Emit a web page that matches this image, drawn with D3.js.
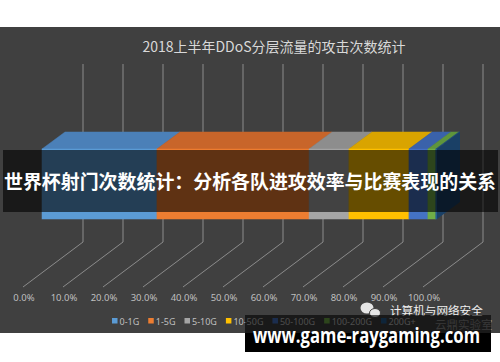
<!DOCTYPE html>
<html>
<head>
<meta charset="utf-8">
<script src="https://cdn.jsdelivr.net/npm/d3@7"></script>
<style>
  body { margin: 0; background: #ffffff; }
  svg { display: block; }
</style>
</head>
<body>
<svg id="chart" width="500" height="362"></svg>
<script>
// data (share of attacks, %)
let categories = ["0-1G", "1-5G", "5-10G", "10-50G", "50-100G", "100-200G", "200G+"];
let shares     = [29.1, 38.5, 10.1, 15.2, 4.8, 2.0, 0.3];
let tickValues = [0, 0.1, 0.2, 0.3, 0.4, 0.5, 0.6, 0.7, 0.8, 0.9, 1.0];

let frontColors = ["#5b9bd5", "#ed7d31", "#a5a5a5", "#ffc000", "#4472c4", "#70ad47", "#255e91"];
let topColors   = ["#4b80b8", "#c8652a", "#8d8d8d", "#d9a400", "#3a62aa", "#5f953c", "#1f4f7c"];
let sideColors  = ["#3f6d9c", "#a9531f", "#777777", "#b88b00", "#31538f", "#4f7e32", "#1a4066"];

let chart = d3.select("#chart");

// dark plot background
chart.append("rect")
    .attr("x", 0).attr("y", 27)
    .attr("width", 500).attr("height", 306)
    .attr("fill", "#404040");

// title
chart.append("text")
    .text("2018上半年DDoS分层流量的攻击次数统计")
    .attr("x", 274)
    .attr("y", 52)
    .style("font-family", "'Noto Sans CJK SC', sans-serif")
    .style("font-size", "14px")
    .style("text-anchor", "middle")
    .style("fill", "#d9d9d9");

// back wall scale (gridlines) and front face scale (bar)
let xBack = d3.scaleLinear().domain([0, 1]).range([83, 483]);
let xFront = d3.scaleLinear().domain([0, 100]).range([42, 437]);
let depthX = 23, depthY = -17;
let barTop = 149, barBottom = 219;
let floorY = 242, floorDX = -60, floorDY = 45;

// gridlines: vertical on the wall, then slanting across the floor
chart.selectAll("gridline")
    .data(tickValues)
    .enter()
    .append("path")
    .attr("d", function(d) {
        let x = xBack(d);
        return "M" + x + ",64 L" + x + "," + floorY + " L" + (x + floorDX) + "," + (floorY + floorDY);
    })
    .attr("fill", "none")
    .attr("stroke", "#8c8c8c")
    .attr("stroke-width", 1);

// tick labels
chart.selectAll("ticklabel")
    .data(tickValues)
    .enter()
    .append("text")
    .text(d3.format(".1%"))
    .attr("x", function(d) { return xBack(d) + floorDX + 1; })
    .attr("y", 301)
    .style("font-family", "'Noto Sans', sans-serif")
    .style("font-size", "9.5px")
    .style("text-anchor", "middle")
    .style("fill", "#bfbfbf");

// stacked segments
let stack = [];
let acc = 0;
shares.forEach(function(v, i) {
    stack.push({ name: categories[i], start: acc, end: acc + v, i: i });
    acc += v;
});

// top faces
chart.selectAll("topface")
    .data(stack)
    .enter()
    .append("path")
    .attr("d", function(d) {
        let x0 = xFront(d.start), x1 = xFront(d.end);
        return "M" + x0 + "," + barTop +
            " L" + (x0 + depthX) + "," + (barTop + depthY) +
            " L" + (x1 + depthX) + "," + (barTop + depthY) +
            " L" + x1 + "," + barTop + " Z";
    })
    .attr("fill", function(d) { return topColors[d.i]; })
    .attr("stroke", function(d) { return topColors[d.i]; })
    .attr("stroke-width", 0.5);

// front faces
chart.selectAll("frontface")
    .data(stack)
    .enter()
    .append("rect")
    .attr("x", function(d) { return xFront(d.start); })
    .attr("y", barTop)
    .attr("width", function(d) { return xFront(d.end) - xFront(d.start); })
    .attr("height", barBottom - barTop)
    .attr("fill", function(d) { return frontColors[d.i]; })
    .attr("stroke", function(d) { return frontColors[d.i]; })
    .attr("stroke-width", 0.5);

// right side face of last segment
let last = stack[stack.length - 1];
let xe = xFront(last.end);
chart.append("path")
    .attr("d", "M" + xe + "," + barTop +
        " L" + (xe + depthX) + "," + (barTop + depthY) +
        " L" + (xe + depthX) + "," + (barBottom + depthY) +
        " L" + xe + "," + barBottom + " Z")
    .attr("fill", sideColors[last.i]);

// legend
let legend = chart.append("g");
let lx = 112;
categories.forEach(function(c, i) {
    legend.append("rect")
        .attr("x", lx).attr("y", 318)
        .attr("width", 5.5).attr("height", 5.5)
        .attr("fill", frontColors[i]);
    let t = legend.append("text")
        .text(c)
        .attr("x", lx + 7.5)
        .attr("y", 324.5)
        .style("font-family", "'Noto Sans', sans-serif")
        .style("font-size", "9px")
        .style("fill", "#bfbfbf");
    lx += 7.5 + t.node().getComputedTextLength() + 9;
});

// overlay banner across the bar
chart.append("rect")
    .attr("x", 3).attr("y", 150)
    .attr("width", 495).attr("height", 62)
    .attr("fill", "#000000")
    .attr("opacity", 0.6);

chart.append("text")
    .text("世界杯射门次数统计：分析各队进攻效率与比赛表现的关系")
    .attr("x", 250)
    .attr("y", 189)
    .attr("textLength", 492)
    .attr("lengthAdjust", "spacingAndGlyphs")
    .style("font-family", "'Noto Sans CJK SC', sans-serif")
    .style("font-size", "19px")
    .style("font-weight", "bold")
    .style("text-anchor", "middle")
    .style("fill", "#ffffff");

// watermark: wechat icon and text
let wm = chart.append("g");
wm.append("ellipse").attr("cx", 367).attr("cy", 308).attr("rx", 6.5).attr("ry", 5.5).attr("fill", "#e6e6e6");
wm.append("ellipse").attr("cx", 375).attr("cy", 313).attr("rx", 5.5).attr("ry", 4.5).attr("fill", "#e6e6e6").attr("stroke", "#404040").attr("stroke-width", 1);
wm.append("text")
    .text("计算机与网络安全")
    .attr("x", 390).attr("y", 314.5)
    .style("font-family", "'Noto Sans CJK SC', sans-serif")
    .style("font-size", "11.6px")
    .style("fill", "#f0f0f0");

// black site banner
chart.append("rect")
    .attr("x", 245).attr("y", 315)
    .attr("width", 246).attr("height", 18)
    .attr("fill", "#000000")
    .attr("opacity", 0.6);
chart.append("rect")
    .attr("x", 245).attr("y", 333)
    .attr("width", 246).attr("height", 19)
    .attr("fill", "#000000");

wm.append("text")
    .text("云鼎实验室")
    .attr("x", 435).attr("y", 329)
    .style("font-family", "'Noto Sans CJK SC', sans-serif")
    .style("font-size", "11.5px")
    .style("fill", "#8a8a8a");

chart.append("text")
    .text("www.game-raygaming.com")
    .attr("x", 253)
    .attr("y", 343)
    .attr("textLength", 227)
    .attr("lengthAdjust", "spacingAndGlyphs")
    .style("font-family", "'Open Sans', sans-serif")
    .style("font-size", "21px")
    .style("font-weight", "bold")
    .style("fill", "#ffffff");
</script>
</body>
</html>
